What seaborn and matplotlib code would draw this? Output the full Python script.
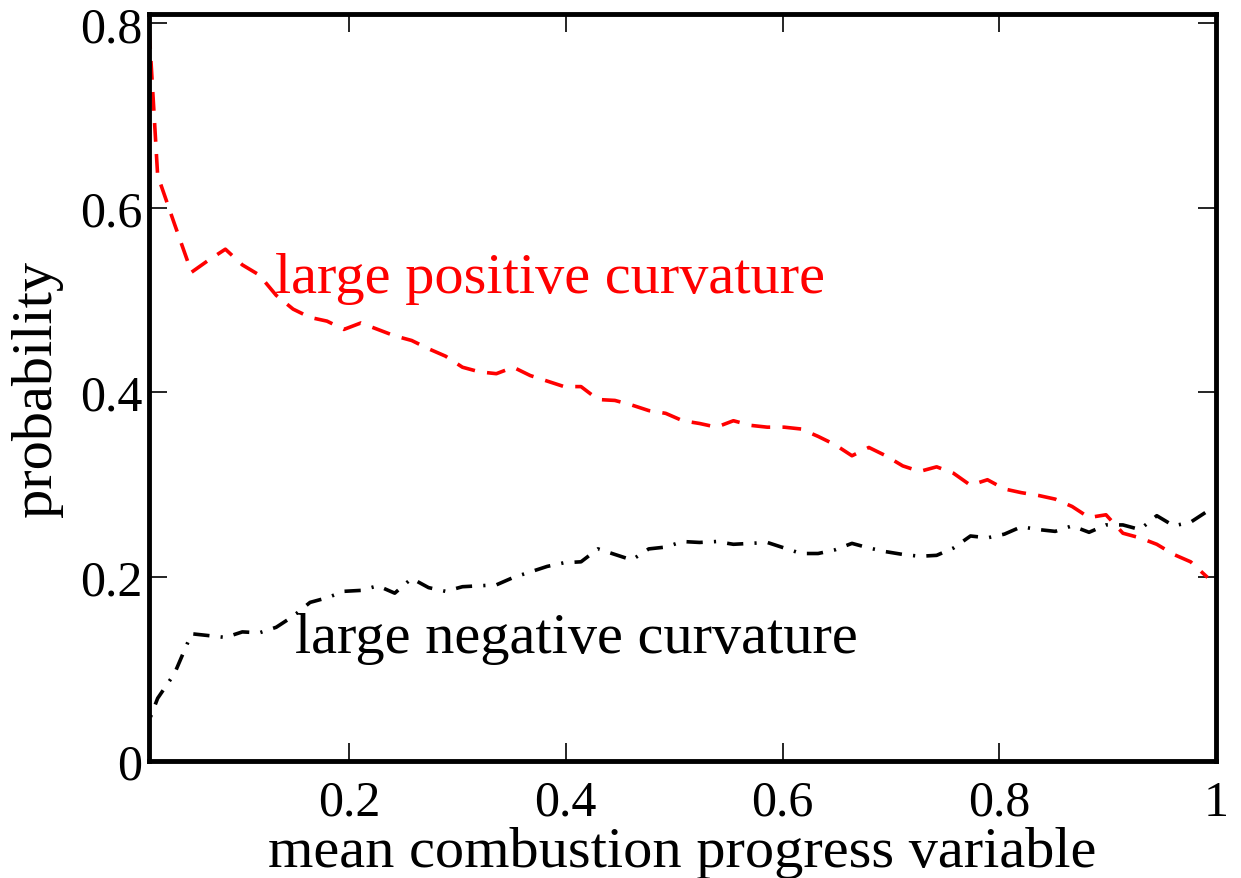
import numpy as np
import pandas as pd
import matplotlib
matplotlib.use("Agg")
import matplotlib.pyplot as plt
import seaborn as sns

# bin centres of the mean progress variable (64 bins on [0, 1])
progress = (np.arange(64) + 0.5) / 64

positive_curvature = [
    0.950, 0.635, 0.582, 0.530, 0.543, 0.555, 0.538, 0.527, 0.505, 0.490,
    0.481, 0.477, 0.468, 0.475, 0.468, 0.461, 0.456, 0.447, 0.439, 0.427,
    0.422, 0.420, 0.427, 0.418, 0.412, 0.406, 0.406, 0.392, 0.391, 0.386,
    0.380, 0.377, 0.369, 0.366, 0.362, 0.369, 0.364, 0.362, 0.362, 0.360,
    0.352, 0.343, 0.331, 0.340, 0.331, 0.320, 0.314, 0.319, 0.312, 0.299,
    0.305, 0.295, 0.291, 0.288, 0.284, 0.276, 0.264, 0.267, 0.247, 0.242,
    0.235, 0.224, 0.216, 0.199,
]

negative_curvature = [
    0.020, 0.068, 0.095, 0.138, 0.136, 0.134, 0.140, 0.139, 0.145, 0.157,
    0.172, 0.177, 0.184, 0.185, 0.190, 0.182, 0.198, 0.188, 0.184, 0.189,
    0.190, 0.191, 0.199, 0.205, 0.211, 0.215, 0.216, 0.230, 0.224, 0.218,
    0.230, 0.232, 0.238, 0.237, 0.238, 0.235, 0.236, 0.237, 0.231, 0.225,
    0.225, 0.229, 0.236, 0.231, 0.227, 0.224, 0.222, 0.223, 0.231, 0.244,
    0.242, 0.246, 0.254, 0.251, 0.249, 0.255, 0.248, 0.256, 0.256, 0.251,
    0.266, 0.255, 0.259, 0.271,
]

groups = ["large positive curvature", "large negative curvature"]
x_ticks = [0.2, 0.4, 0.6, 0.8, 1.0]
x_tick_labels = ["0.2", "0.4", "0.6", "0.8", "1"]
y_ticks = [0.0, 0.2, 0.4, 0.6, 0.8]
y_tick_labels = ["0", "0.2", "0.4", "0.6", "0.8"]

df = pd.DataFrame({
    "progress": np.concatenate([progress, progress]),
    "probability": positive_curvature + negative_curvature,
    "group": [groups[0]] * len(progress) + [groups[1]] * len(progress),
})

sns.set_style("ticks")
plt.rcParams["font.family"] = ["Liberation Serif", "DejaVu Serif"]
plt.rcParams["axes.labelcolor"] = "black"
plt.rcParams["text.color"] = "black"

fig = plt.figure(figsize=(12.41, 8.79), dpi=100)
ax = fig.add_axes([0.1201, 0.1331, 0.8598, 0.8498])

sns.lineplot(
    data=df, x="progress", y="probability", hue="group", style="group",
    palette={groups[0]: "#ff0000", groups[1]: "#000000"},
    dashes={groups[0]: (5.2, 3.4), groups[1]: (4.5, 3.1, 0.6, 3.1)},
    linewidth=2.6, legend=False, ax=ax,
)

ax.set_xlim(0.0155, 1.0)
ax.set_ylim(0.0, 0.81)
ax.set_xticks(x_ticks)
ax.set_xticklabels(x_tick_labels)
ax.set_yticks(y_ticks)
ax.set_yticklabels(y_tick_labels)

ax.tick_params(direction="in", length=13, width=1.2, top=True, right=True,
               labelsize=36, colors="black")
ax.tick_params(axis="x", pad=13)
ax.tick_params(axis="y", pad=5)
for side in ax.spines.values():
    side.set_linewidth(3.5)
    side.set_color("black")

ax.set_xlabel("mean combustion progress variable", fontsize=42, color="black")
ax.set_ylabel("probability", fontsize=42, color="black")
ax.xaxis.set_label_coords(0.5, -0.087)
ax.yaxis.set_label_coords(-0.081, 0.5)

ax.text(0.132, 0.509, groups[0], color="#ff0000", fontsize=42, va="baseline")
ax.text(0.150, 0.118, groups[1], color="black", fontsize=42, va="baseline")

fig.savefig("out.png", dpi=100)
